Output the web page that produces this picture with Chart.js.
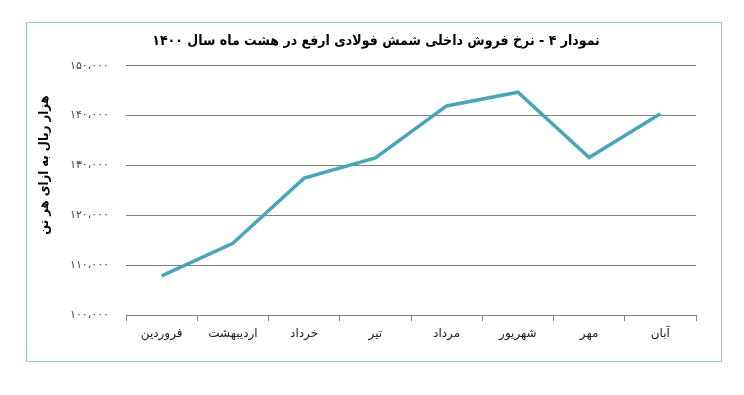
<!DOCTYPE html>
<html>
<head>
<meta charset="utf-8">
<script src="https://cdn.jsdelivr.net/npm/chart.js@4/dist/chart.umd.min.js"></script>
<style>
    html, body { margin: 0; padding: 0; background: #fff; }
    #wrap { position: relative; width: 744px; height: 395px; }
    #frame {
        position: absolute; left: 26px; top: 22px; width: 694px; height: 338px;
        border: 1px solid #9cc8d0; pointer-events: none;
    }
</style>
</head>
<body>
<div id="wrap">
    <canvas id="price-chart" width="744" height="395"></canvas>
    <div id="frame"></div>
</div>
<script>
    "use strict";

    // Data
    var months = ["فروردین", "اردیبهشت", "خرداد", "تیر", "مرداد", "شهریور", "مهر", "آبان"];
    var prices = [107850, 114400, 127450, 131500, 141950, 144700, 131600, 140400];
    var yTicks = [100000, 110000, 120000, 130000, 140000, 150000];

    var titleText = "نمودار ۴ - نرخ فروش داخلی شمش فولادی ارفع در هشت ماه سال ۱۴۰۰";
    var yTitleText = "هزار ریال به ازای هر تن";

    var persianFont = "'DejaVu Sans', 'Noto Sans', sans-serif";
    var boldFont = "'DejaVu Sans Condensed', 'DejaVu Sans', sans-serif";

    // convert a number to Persian digits with a thousands separator
    var toPersian = function (n) {
        var s = String(n).replace(/\B(?=(\d{3})+(?!\d))/g, "،");
        return s.replace(/\d/g, function (d) { return "۰۱۲۳۴۵۶۷۸۹"[+d]; });
    };

    // Y axis title, drawn a bit above the middle like the original
    var yTitlePlugin = {
        id: "yTitle",
        afterDraw: function (chart) {
            var c = chart.ctx;
            c.save();
            c.translate(45, 165);
            c.rotate(-Math.PI / 2);
            c.fillStyle = "#000";
            c.font = "bold 13px " + boldFont;
            c.textAlign = "center";
            c.textBaseline = "middle";
            c.fillText(yTitleText, 0, 0);
            c.restore();
        }
    };

    var ctx = document.getElementById("price-chart").getContext("2d");
    var myChart = new Chart(ctx, {
        type: "line",
        data: {
            labels: months,
            datasets: [{
                label: "نرخ فروش",
                data: prices,
                borderColor: "#4aa5b8",
                borderWidth: 3.5,
                pointRadius: 0,
                tension: 0,
                fill: false
            }]
        },
        options: {
            responsive: false,
            animation: false,
            layout: {
                padding: { left: 56, right: 48, top: 0, bottom: 30 }
            },
            plugins: {
                legend: { display: false },
                tooltip: { enabled: false },
                title: {
                    display: true,
                    text: titleText,
                    color: "#000",
                    font: { family: boldFont, size: 14, weight: "bold" },
                    padding: { top: 33, bottom: 16 }
                }
            },
            scales: {
                x: {
                    offset: true,
                    grid: {
                        offset: true,
                        drawOnChartArea: false,
                        drawTicks: true,
                        tickLength: 6,
                        color: "#808080"
                    },
                    border: { display: true, color: "#808080", width: 1 },
                    ticks: {
                        color: "#222",
                        padding: 6,
                        maxRotation: 0,
                        autoSkip: false,
                        font: { family: persianFont, size: 12 }
                    },
                    afterFit: function (scale) { scale.height = 50; }
                },
                y: {
                    min: 100000,
                    max: 150000,
                    afterBuildTicks: function (scale) {
                        scale.ticks = yTicks.map(function (v) { return { value: v }; });
                    },
                    grid: {
                        color: "#808080",
                        lineWidth: 1,
                        drawTicks: false
                    },
                    border: { display: false },
                    ticks: {
                        color: "#444",
                        padding: 17,
                        font: { family: persianFont, size: 11 },
                        callback: function (v) { return toPersian(v); }
                    },
                    afterFit: function (scale) { scale.width = 70; }
                }
            }
        },
        plugins: [yTitlePlugin]
    });
</script>
</body>
</html>
